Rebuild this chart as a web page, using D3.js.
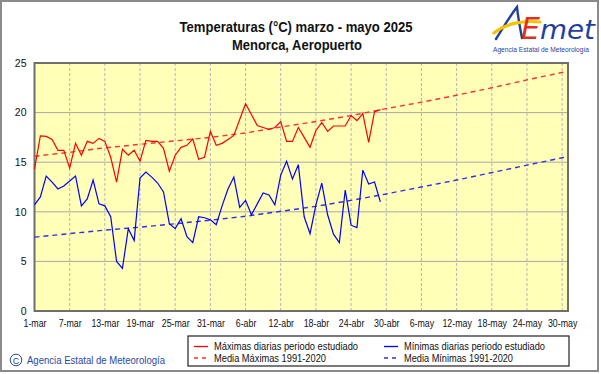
<!DOCTYPE html>
<html><head><meta charset="utf-8">
<script src="https://cdn.jsdelivr.net/npm/d3@7"></script>
<style>
html,body{margin:0;padding:0;background:#fff;}
svg{display:block;font-family:"Liberation Sans",Arial,sans-serif;}
</style></head>
<body>
<svg id="chart" width="601" height="374"></svg>
<script>
// ---- data ----
const dayIndex = d3.range(0, 60); // 1-mar .. 29-abr
const tmax = [14.3,17.65,17.6,17.3,16.2,16.2,14.4,16.9,15.7,17.1,16.9,17.4,17.1,15.5,13.0,16.3,15.7,16.2,15.1,17.2,
  17.1,17.1,16.4,14.1,15.7,16.5,16.7,17.35,15.3,15.5,18.1,16.7,16.9,17.3,17.7,19.3,20.9,19.8,18.7,18.5,
  18.3,18.5,19.1,17.1,17.1,18.5,17.5,16.5,18.2,19.0,18.1,18.65,18.65,18.65,19.7,19.2,19.9,17.0,20.1,20.3];
const tmin = [10.7,11.5,13.6,13.0,12.3,12.6,13.1,13.6,10.6,11.3,13.2,10.8,10.6,9.5,5.0,4.3,8.3,7.1,13.4,14.0,
  13.5,12.9,12.0,8.8,8.3,9.3,7.5,6.9,9.5,9.4,9.2,8.7,10.6,12.3,13.5,10.45,11.15,9.7,10.8,11.9,
  11.7,10.7,13.7,15.1,13.3,14.75,9.5,7.8,10.7,12.9,9.7,7.75,6.9,12.2,8.65,8.4,14.2,12.8,13.0,11.0];
const normDays = [0,6,12,18,24,30,36,42,48,54,60,66,72,78,84,90,91];
const normMax = [15.6,16.0,16.45,16.8,17.15,17.5,17.95,18.55,19.1,19.7,20.4,21.05,21.75,22.5,23.3,24.05,24.15];
const normMin = [7.45,7.8,8.15,8.45,8.8,9.15,9.55,10.05,10.55,11.15,11.8,12.5,13.2,13.95,14.7,15.45,15.55];
const tickDays = [0,6,12,18,24,30,36,42,48,54,60,66,72,78,84,90];
const tickLabels = ["1-mar","7-mar","13-mar","19-mar","25-mar","31-mar","6-abr","12-abr","18-abr","24-abr","30-abr","6-may","12-may","18-may","24-may","30-may"];
const yTicks = [0,5,10,15,20,25];
const title1 = "Temperaturas (°C) marzo  - mayo 2025";
const title2 = "Menorca, Aeropuerto";
const legendItems = [
  {label:"Máximas diarias periodo estudiado", color:"#ff0000", dash:null, col:0, row:0, w:144},
  {label:"Mínimas diarias periodo estudiado", color:"#0000ff", dash:null, col:1, row:0, w:141},
  {label:"Media Máximas 1991-2020", color:"#ff3030", dash:"4,4", col:0, row:1, w:112},
  {label:"Media Mínimas 1991-2020", color:"#3030e8", dash:"4,4", col:1, row:1, w:109}
];

// ---- layout ----
const svg = d3.select("#chart");
const L = 34.5, R = 568, T = 63, B = 311;
const x = d3.scaleLinear().domain([0, 91]).range([L, R]);
const y = d3.scaleLinear().domain([0, 25]).range([B, T]);

// outer frame
svg.append("rect").attr("x",1).attr("y",1).attr("width",597).attr("height",370)
  .attr("fill","#fff").attr("stroke","#8a8a8a").attr("stroke-width",2);

// titles
svg.append("text").attr("x",296).attr("y",32).attr("text-anchor","middle")
  .attr("font-size",14).attr("font-weight","bold").attr("fill","#111")
  .attr("textLength",233).attr("lengthAdjust","spacingAndGlyphs").text(title1);
svg.append("text").attr("x",297).attr("y",50).attr("text-anchor","middle")
  .attr("font-size",14).attr("font-weight","bold").attr("fill","#111")
  .attr("textLength",130).attr("lengthAdjust","spacingAndGlyphs").text(title2);

// logo
const logo = svg.append("g");
logo.append("path").attr("d","M496,39 C503,28 510,16 517,7 C518,17 520,28 522,38")
  .attr("fill","none").attr("stroke","#1f3f9f").attr("stroke-width",2.4).attr("stroke-linecap","round");
logo.append("path").attr("d","M494,33 C505,24 522,20 540,22")
  .attr("fill","none").attr("stroke","#f5c400").attr("stroke-width",3.2).attr("stroke-linecap","round");
logo.append("text").attr("x",521).attr("y",39).attr("font-size",30).attr("font-style","italic")
  .attr("fill","#e0301e").attr("font-family","DejaVu Sans").text("E");
logo.append("text").attr("x",540).attr("y",39).attr("font-size",27).attr("font-style","italic")
  .attr("fill","#1f3f9f").attr("font-family","DejaVu Sans").attr("textLength",55)
  .attr("lengthAdjust","spacingAndGlyphs").text("met");
logo.append("text").attr("x",541).attr("y",52).attr("text-anchor","middle").attr("font-size",7)
  .attr("fill","#1f3f9f").attr("textLength",96).attr("lengthAdjust","spacingAndGlyphs")
  .text("Agencia Estatal de Meteorología");

// plot background
svg.append("rect").attr("x",L).attr("y",T).attr("width",R-L).attr("height",B-T).attr("fill","#ffffb8");

// grid
svg.append("g").selectAll("line").data(yTicks.filter(v=>v>0&&v<25)).join("line")
  .attr("x1",L).attr("x2",R).attr("y1",d=>y(d)).attr("y2",d=>y(d))
  .attr("stroke","#a9a9a9").attr("stroke-width",1);
svg.append("g").selectAll("line").data(tickDays.filter(v=>v>0)).join("line")
  .attr("x1",d=>x(d)).attr("x2",d=>x(d)).attr("y1",T).attr("y2",B)
  .attr("stroke","#b4b4b4").attr("stroke-width",1).attr("stroke-dasharray","3,2");

// frame of plot
svg.append("rect").attr("x",L).attr("y",T).attr("width",R-L).attr("height",B-T)
  .attr("fill","none").attr("stroke","#6e6e6e").attr("stroke-width",2);

// condensed text helper (reference glyphs are horizontally narrow)
function condense(sel, f){
  sel.each(function(){
    const w = this.getComputedTextLength();
    d3.select(this).attr("textLength", w*f).attr("lengthAdjust","spacingAndGlyphs");
  });
}

// axes labels
const yAxis = d3.axisLeft(y).tickValues(yTicks).tickSize(0).tickPadding(8);
const gy = svg.append("g").attr("transform",`translate(${L},0)`).call(yAxis);
gy.select(".domain").remove();
gy.selectAll("text").attr("font-size",10.5).attr("fill","#111").attr("font-family","Liberation Sans, Arial");

const xAxis = d3.axisBottom(x).tickValues(tickDays).tickSize(0).tickPadding(9)
  .tickFormat((d,i)=>tickLabels[i]);
const gx = svg.append("g").attr("transform",`translate(0,${B})`).call(xAxis);
gx.select(".domain").remove();
gx.selectAll("text").attr("font-size",10.5).attr("fill","#111").attr("font-family","Liberation Sans, Arial")
  .call(condense, 0.84);

// lines
const line = d3.line().x(d=>x(d[0])).y(d=>y(d[1]));
svg.append("path").datum(normDays.map((d,i)=>[d,normMax[i]])).attr("d",line)
  .attr("fill","none").attr("stroke","#ff3030").attr("stroke-width",1.4).attr("stroke-dasharray","5,4");
svg.append("path").datum(normDays.map((d,i)=>[d,normMin[i]])).attr("d",line)
  .attr("fill","none").attr("stroke","#3030e8").attr("stroke-width",1.4).attr("stroke-dasharray","5,4");
svg.append("path").datum(dayIndex.map((d,i)=>[d,tmax[i]])).attr("d",line)
  .attr("fill","none").attr("stroke","#ff0000").attr("stroke-width",1.2);
svg.append("path").datum(dayIndex.map((d,i)=>[d,tmin[i]])).attr("d",line)
  .attr("fill","none").attr("stroke","#0000ff").attr("stroke-width",1.2);

// legend
svg.append("rect").attr("x",188).attr("y",336).attr("width",381).attr("height",30)
  .attr("fill","#fff").attr("stroke","#222").attr("stroke-width",1.2);
const lg = svg.append("g");
legendItems.forEach(it=>{
  const x0 = it.col===0 ? 194 : 384;
  const yy = it.row===0 ? 346.5 : 358;
  lg.append("line").attr("x1",x0).attr("x2",x0+14).attr("y1",yy).attr("y2",yy)
    .attr("stroke",it.color).attr("stroke-width",1.3).attr("stroke-dasharray",it.dash);
  lg.append("text").attr("x",x0+20).attr("y",yy+3.5).attr("font-size",10).attr("fill","#111")
    .attr("textLength",it.w).attr("lengthAdjust","spacingAndGlyphs").text(it.label);
});

// copyright
svg.append("circle").attr("cx",16).attr("cy",360).attr("r",5.8).attr("fill","none")
  .attr("stroke","#2848a8").attr("stroke-width",1);
svg.append("text").attr("x",16).attr("y",363.5).attr("text-anchor","middle").attr("font-size",9)
  .attr("fill","#2848a8").text("C");
svg.append("text").attr("x",27).attr("y",364).attr("font-size",10).attr("fill","#2848a8")
  .attr("textLength",138).attr("lengthAdjust","spacingAndGlyphs").text("Agencia Estatal de Meteorología");
</script>
</body></html>
